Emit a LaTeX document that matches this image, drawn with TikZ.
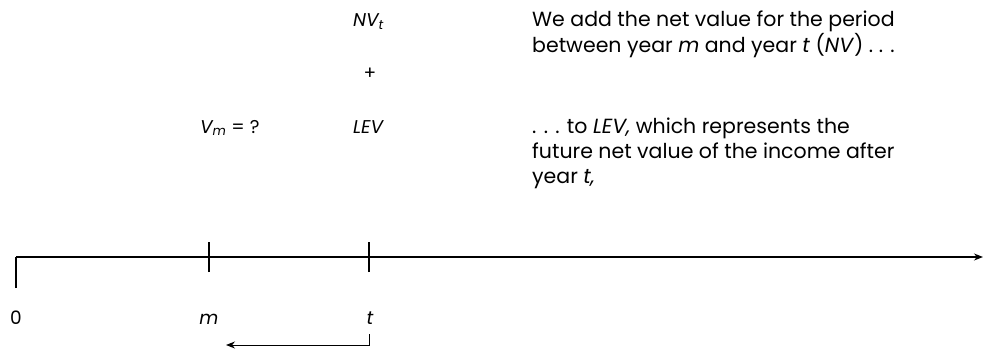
\documentclass[tikz,border=0pt]{standalone}
\usepackage{fontspec}
\setmainfont{Poppins}
\usetikzlibrary{arrows.meta}
\begin{document}
\begin{tikzpicture}[x=1pt,y=-1pt,
  lbl/.style={font=\fontsize{18.5}{22}\selectfont, inner sep=0pt, anchor=base},
  val/.style={font=\fontsize{18.5}{22}\selectfont, inner sep=0pt, anchor=base west},
  note/.style={font=\fontsize{20.5}{25}\selectfont, inner sep=0pt, anchor=base west},
  axis/.style={line width=1.3pt},
  tip/.style={-{Stealth[length=9pt,width=7pt]}}]
\useasboundingbox (0,0) rectangle (983,356);

% time axis
\coordinate (o) at (16,257);
\coordinate (obot) at (16,288);
\coordinate (tm) at (209,257);
\coordinate (tt) at (369,257);
\coordinate (end) at (983,257);
\draw[axis] (obot) -- (o);
\draw[axis,tip] (o) -- (end);
\draw[axis] ([yshift=-15]tm) -- ([yshift=15]tm);
\draw[axis] ([yshift=-15]tt) -- ([yshift=15]tt);

% axis labels
\node[lbl] (l0) at (16,324) {0};
\node[lbl] (lm) at (209,324) {\itshape m};
\node[lbl] (lt) at (370,324) {\itshape t};

% discounting arrow back from t towards m
\coordinate (bs) at (369,334);
\coordinate (bc) at (369,345);
\coordinate (be) at (226,345);
\draw[line width=1pt,tip] (bs) -- (bc) -- (be);

% values
\node[val] (nv) at (353,27) {\itshape NV\textsubscript{t}};
\node[lbl] (plus) at (370,79) {+};
\node[val] (lev) at (353,133) {\itshape LEV};
\node[val] (vm) at (200,133) {\itshape V\textsubscript{m}\upshape{} = ?};

% explanations
\node[note] (n1a) at (532,27) {We add the net value for the period};
\node[note] (n1b) at (532,52) {between year \textit{m} and year \textit{t} (\textit{NV}) . . .};
\node[note] (n2a) at (532,133) {. . . to \textit{LEV,} which represents the};
\node[note] (n2b) at (532,158) {future net value of the income after};
\node[note] (n2c) at (532,183) {year \textit{t,}};
\end{tikzpicture}
\end{document}
